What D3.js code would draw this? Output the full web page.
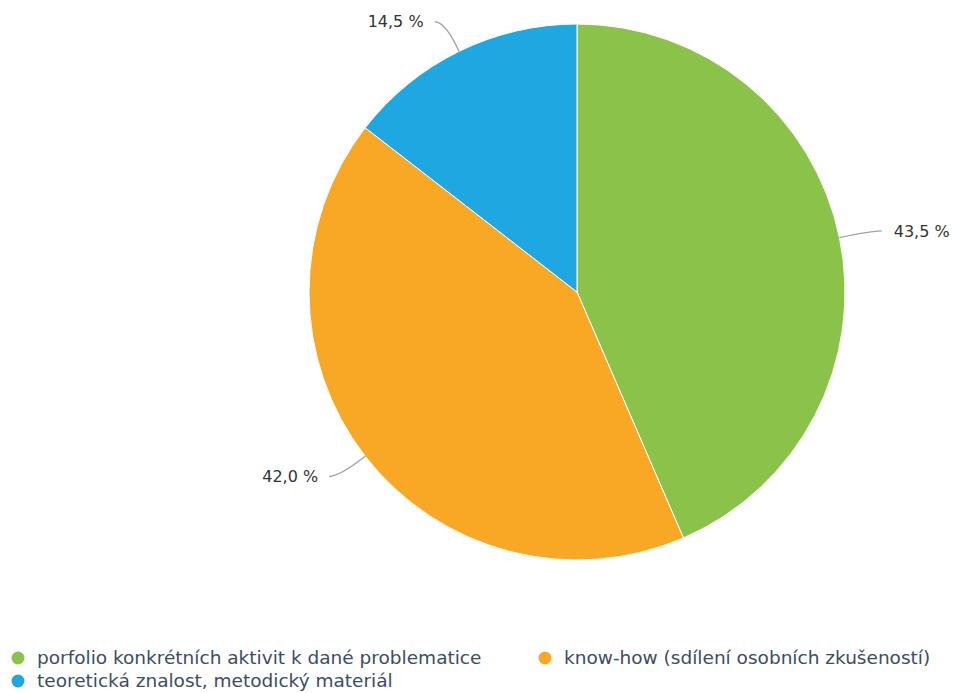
<!DOCTYPE html>
<html>
<head>
<meta charset="utf-8">
<script src="https://cdn.jsdelivr.net/npm/d3@7"></script>
<style>
  html, body { margin: 0; padding: 0; background: #fff; }
  svg { display: block; font-family: "DejaVu Sans", sans-serif; }
</style>
</head>
<body>
<svg id="chart" width="954" height="693"></svg>
<script>
// Category names, shares (%) and slice colours
const categories = [
  "porfolio konkrétních aktivit k dané problematice",
  "know-how (sdílení osobních zkušeností)",
  "teoretická znalost, metodický materiál"
];
const shares = [43.5, 42.0, 14.5];
const colors = ["#8bc34a", "#f9a825", "#1ea7e0"];

const width = 954, height = 693;
const cx = 577, cy = 292, radius = 268, labelDist = 33;

const svg = d3.select("#chart");

const data = categories.map((c, i) => ({ name: c, value: shares[i], color: colors[i] }));

const pie = d3.pie().sort(null).value(d => d.value);
const arcs = pie(data);
const arc = d3.arc().innerRadius(0).outerRadius(radius);

const g = svg.append("g").attr("transform", `translate(${cx},${cy})`);

g.selectAll("path.slice")
  .data(arcs)
  .join("path")
  .attr("class", "slice")
  .attr("d", arc)
  .attr("fill", d => d.data.color)
  .attr("stroke", "#fff")
  .attr("stroke-width", 1);

// Polar helper: angle measured clockwise from 12 o'clock
const polar = (r, a) => [r * Math.sin(a), -r * Math.cos(a)];
const fmt = v => v.toFixed(1).replace(".", ",") + " %";

arcs.forEach(d => {
  const mid = (d.startAngle + d.endAngle) / 2;
  const right = Math.sin(mid) >= 0;
  const p0 = polar(radius, mid);
  const l = polar(radius + labelDist, mid);
  const c2 = polar(radius + 12, mid);
  const ex = l[0] + (right ? 10 : -10);
  const path = d3.path();
  path.moveTo(ex, l[1]);
  path.bezierCurveTo(l[0], l[1], c2[0], c2[1], p0[0], p0[1]);
  g.append("path")
    .attr("d", path.toString())
    .attr("fill", "none")
    .attr("stroke", "#a0a0a0")
    .attr("stroke-width", 1.3);
  g.append("text")
    .attr("x", ex + (right ? 12 : -11))
    .attr("y", l[1])
    .attr("dy", "0.35em")
    .attr("text-anchor", right ? "start" : "end")
    .attr("fill", "#333")
    .attr("font-size", 16)
    .text(fmt(d.data.value));
});

// Legend: two columns, wrapping to a second row
const legendPos = [[18, 658], [545, 658], [18, 681]];
const legend = svg.append("g");
data.forEach((d, i) => {
  const [x, y] = legendPos[i];
  const item = legend.append("g").attr("transform", `translate(${x},${y})`);
  item.append("circle").attr("r", 6.5).attr("fill", d.color);
  item.append("text")
    .attr("x", 19)
    .attr("dy", "0.35em")
    .attr("fill", "#3b4d63")
    .attr("font-size", 18.5)
    .text(d.name);
});
</script>
</body>
</html>
